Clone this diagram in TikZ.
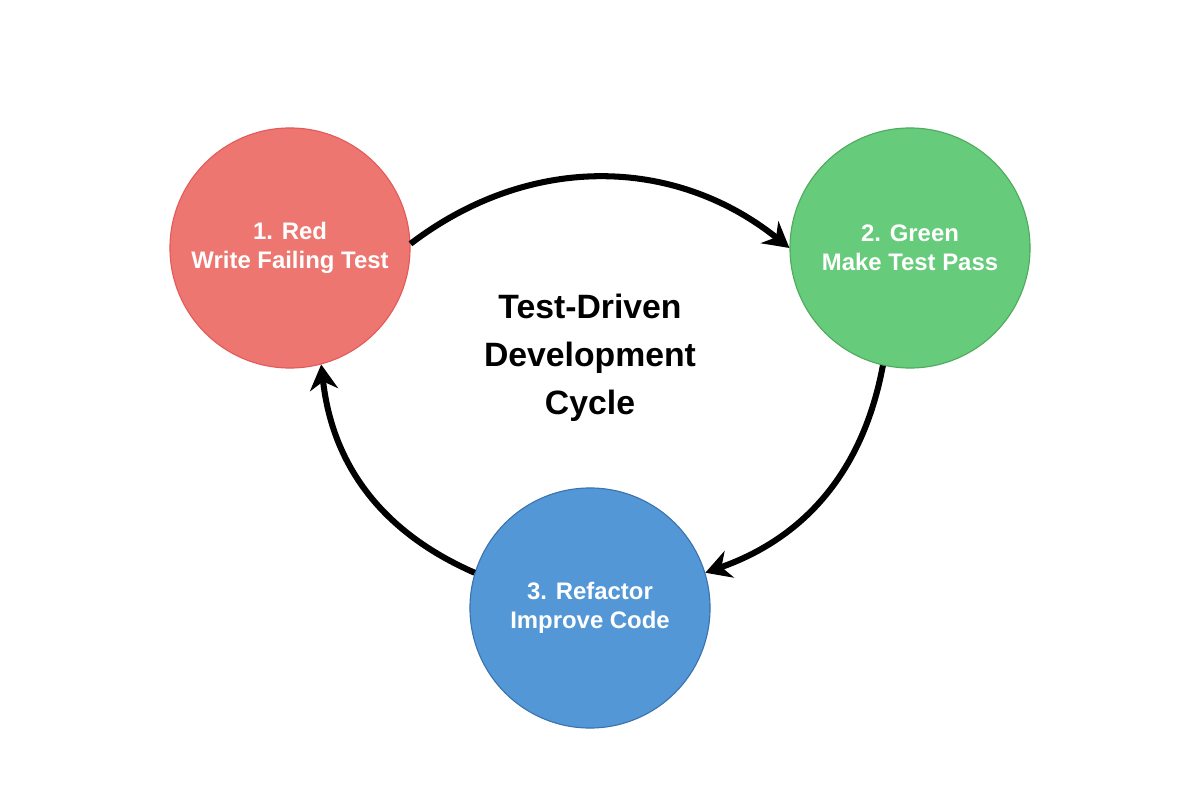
\documentclass[tikz,border=0pt]{standalone}
\usepackage{fontspec}
\setmainfont{Liberation Sans}
\usetikzlibrary{arrows.meta}
\definecolor{redfill}{RGB}{237,118,112}
\definecolor{reddraw}{RGB}{228,90,90}
\definecolor{greenfill}{RGB}{102,203,122}
\definecolor{greendraw}{RGB}{80,170,95}
\definecolor{bluefill}{RGB}{83,151,214}
\definecolor{bluedraw}{RGB}{60,115,175}

\begin{document}
\begin{tikzpicture}[x=0.025cm,y=-0.025cm,
        stepnode/.style={circle, thick, minimum size=6cm, text=white, align=center,
            font=\fontsize{17}{21}\selectfont\bfseries},
        cyclearrow/.style={line width=4.3pt, -{Stealth[length=18pt,width=20pt]}}]
        \useasboundingbox (0,0) rectangle (1196,806);
        \node[stepnode,fill=redfill,draw=reddraw] (red) at (290,248) {1. Red\\Write Failing Test};
        \node[stepnode,fill=greenfill,draw=greendraw] (green) at (910,248) {2. Green\\Make Test Pass};
        \node[stepnode,fill=bluefill,draw=bluedraw] (blue) at (590,608) {3. Refactor\\Improve Code};
        \node[align=center,font=\fontsize{24}{34}\selectfont\bfseries] (title) at (590,358) {Test-Driven\\Development\\Cycle};
        \draw[cyclearrow] (red.2) to[bend left=38] (green.180);
        \draw[cyclearrow] (green.-103) to[bend left=30] (blue.17);
        \draw[cyclearrow] (blue.163) to[bend left=30] (red.-75);
\end{tikzpicture}
\end{document}
